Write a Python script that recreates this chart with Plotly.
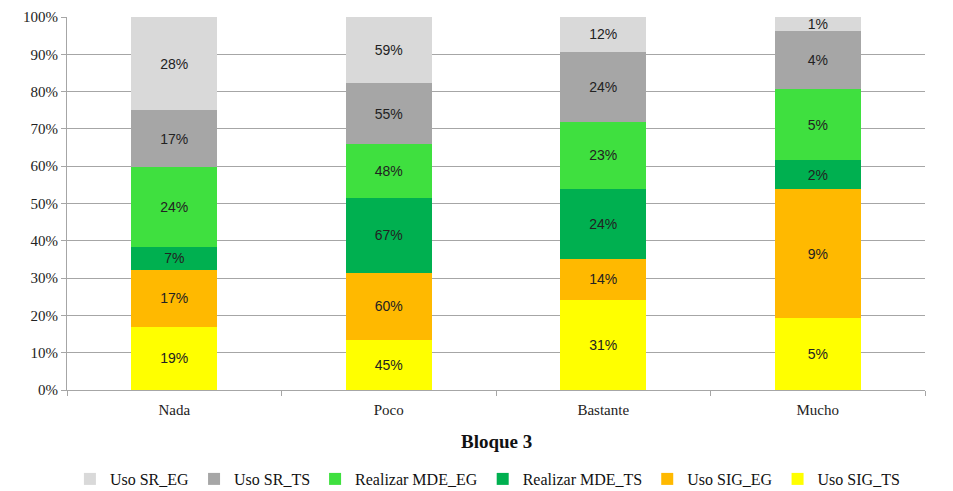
import plotly.graph_objects as go

categories = ["Nada", "Poco", "Bastante", "Mucho"]
# stacked bottom -> top
series_names = ["Uso SIG_TS", "Uso SIG_EG", "Realizar MDE_TS", "Realizar MDE_EG", "Uso SR_TS", "Uso SR_EG"]
uso_sig_ts = [19, 45, 31, 5]
uso_sig_eg = [17, 60, 14, 9]
realizar_mde_ts = [7, 67, 24, 2]
realizar_mde_eg = [24, 48, 23, 5]
uso_sr_ts = [17, 55, 24, 4]
uso_sr_eg = [28, 59, 12, 1]
series_values = [uso_sig_ts, uso_sig_eg, realizar_mde_ts, realizar_mde_eg, uso_sr_ts, uso_sr_eg]
colors = ["#ffff00", "#ffb900", "#00b050", "#3fe03f", "#a6a6a6", "#d9d9d9"]
y_ticks = list(range(0, 101, 10))

fig = go.Figure()
for name, vals, col in zip(series_names, series_values, colors):
    fig.add_trace(go.Bar(
        x=categories, y=vals, name=name, marker=dict(color=col, line=dict(width=0)),
        text=[f"{v}%" for v in vals], textposition="inside", insidetextanchor="middle",
        textangle=0, constraintext="none",
        textfont=dict(family="Liberation Sans, Arial, sans-serif", size=14, color="#222222"),
        hoverinfo="skip",
    ))

fig.update_layout(
    barmode="stack", barnorm="percent", bargap=0.6,
    width=953, height=491,
    margin=dict(l=67, r=28, t=17, b=101, autoexpand=False),
    paper_bgcolor="white", plot_bgcolor="white",
    showlegend=True,
    legend=dict(orientation="h", traceorder="reversed", x=0.49, xanchor="center",
                y=(390 - 479) / 373, yanchor="middle",
                font=dict(family="Liberation Serif, Times New Roman, serif", size=16, color="#111111"),
                itemwidth=30, tracegroupgap=0),
    annotations=[dict(text="<b>Bloque 3</b>", x=0.5, xref="paper", y=(390 - 441) / 373, yref="paper",
                      yanchor="middle", showarrow=False,
                      font=dict(family="Liberation Serif, Times New Roman, serif", size=19, color="#111111"))],
    uniformtext=dict(mode=False),
)
fig.update_yaxes(range=[0, 100], tickvals=y_ticks, ticktext=[f"{t}%" for t in y_ticks],
                 showgrid=True, gridcolor="#a6a6a6", gridwidth=1,
                 showline=True, linecolor="#a6a6a6", ticks="outside", ticklen=5, tickcolor="#a6a6a6",
                 tickfont=dict(family="Liberation Serif, Times New Roman, serif", size=15, color="#222222"),
                 zeroline=False)
fig.update_xaxes(showline=True, linecolor="#a6a6a6", ticks="outside", ticklen=5, tickcolor="#a6a6a6",
                 tickson="boundaries", ticklabelstandoff=6,
                 tickfont=dict(family="Liberation Serif, Times New Roman, serif", size=15, color="#222222"))

fig.write_html("out.html")
